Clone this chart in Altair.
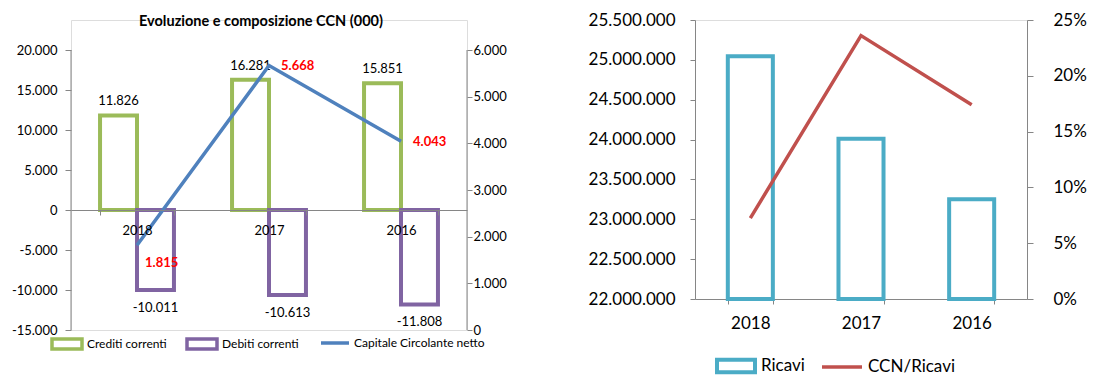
import altair as alt
import pandas as pd

years = ["2018", "2017", "2016"]
crediti = [11826, 16281, 15851]
debiti = [-10011, -10613, -11808]
ccn = [1815, 5668, 4043]
ricavi = [25045000, 24010000, 23250000]
ccn_ricavi = [0.0725, 0.236, 0.174]
left_ticks = [-15000, -10000, -5000, 0, 5000, 10000, 15000, 20000]
right_ticks = [0, 1000, 2000, 3000, 4000, 5000, 6000]

FONT = "Lato"
GRAY = "#868686"
GREEN = "#9BBB59"
PURPLE = "#8064A2"
BLUE = "#4F81BD"
CYAN = "#4BACC6"
RED = "#C0504D"

bars_df = pd.DataFrame({
    "year": years * 2,
    "serie": ["Crediti correnti"] * 3 + ["Debiti correnti"] * 3,
    "value": crediti + debiti,
})
line_df = pd.DataFrame({"year": years, "serie": ["Capitale Circolante netto"] * 3, "ccn": ccn})
r_df = pd.DataFrame({"year": years, "serie": ["Ricavi"] * 3, "ricavi": ricavi})
rl_df = pd.DataFrame({"year": years, "serie": ["CCN/Ricavi"] * 3, "ratio": ccn_ricavi})
laxis_df = pd.DataFrame({"lo": [min(left_ticks)], "hi": [max(left_ticks)]})
raxis_df = pd.DataFrame({"lo": [min(right_ticks)], "hi": [max(right_ticks)]})

# ---------------- left chart ----------------
LH = 310          # left view height (its axes use the lower 280 px)
LRANGE = [310, 30]
xscale_l = alt.Scale(domain=years, paddingInner=0.44, paddingOuter=0.22)
xaxis_l = alt.Axis(title=None, orient="bottom", offset=-120, domainColor=GRAY, tickColor=GRAY,
                   tickBand="extent", tickSize=5, labelPadding=9, labelAngle=0, labelFontSize=13,
                   labelFont=FONT, labelColor="black", zindex=1)
yscale_l = alt.Scale(domain=[-15000, 20000], range=LRANGE, nice=False, zero=False)
yaxis_l = alt.Axis(title=None, orient="left", values=left_ticks, format=",.0f",
                   grid=False, domain=False, tickColor=GRAY, tickSize=6, labelPadding=8,
                   labelFontSize=13, labelFont=FONT, labelColor="black")
y2scale_l = alt.Scale(domain=[0, 6000], range=LRANGE, nice=False, zero=False)
y2axis_l = alt.Axis(title=None, orient="right", values=right_ticks, format=",.0f",
                    grid=False, domain=False, tickColor=GRAY, tickSize=5, labelPadding=1,
                    labelFontSize=13, labelFont=FONT, labelColor="black")

X_l = alt.X("year:N", sort=years, scale=xscale_l, axis=xaxis_l)
XO = alt.XOffset("serie:N", scale=alt.Scale(paddingInner=0, paddingOuter=0))

# axis lines that span only the tick range
left_axis_line = alt.Chart(laxis_df).mark_rule(color=GRAY, strokeWidth=1).encode(
    x=alt.value(0),
    y=alt.Y("lo:Q", scale=yscale_l, axis=yaxis_l),
    y2=alt.Y2("hi:Q"))
right_axis_line = alt.Chart(raxis_df).mark_rule(color=GRAY, strokeWidth=1).encode(
    x=alt.value("width"),
    y=alt.Y("lo:Q", scale=y2scale_l, axis=y2axis_l),
    y2=alt.Y2("hi:Q"))

bars = alt.Chart(bars_df).mark_bar(fill="white", strokeWidth=4).encode(
    x=X_l,
    xOffset=XO,
    y=alt.Y("value:Q", scale=yscale_l, axis=yaxis_l),
    stroke=alt.Stroke("serie:N", scale=alt.Scale(domain=["Crediti correnti", "Debiti correnti"],
                                                 range=[GREEN, PURPLE]),
                      legend=alt.Legend(title=None, orient="none", direction="horizontal",
                                        legendX=-21, legendY=307, padding=0,
                                        symbolType="M-1,-0.33H1V0.33H-1Z", symbolSize=900,
                                        symbolStrokeWidth=3.5, symbolFillColor="white",
                                        labelFont=FONT, labelFontSize=12, labelColor="black",
                                        labelOffset=3, columnPadding=13)),
)
pos_text = alt.Chart(bars_df).transform_filter(alt.datum.value > 0).mark_text(
    font=FONT, fontSize=13, color="black", dy=-14, baseline="middle").encode(
    x=X_l, xOffset=XO, y=alt.Y("value:Q", scale=yscale_l, axis=yaxis_l),
    text=alt.Text("value:Q", format=",.0f"))
neg_text = alt.Chart(bars_df).transform_filter(alt.datum.value < 0).mark_text(
    font=FONT, fontSize=13, color="black", dy=18, baseline="middle").encode(
    x=X_l, xOffset=XO, y=alt.Y("value:Q", scale=yscale_l, axis=yaxis_l),
    text=alt.Text("value:Q", format=",.0f"))

line = alt.Chart(line_df).mark_line(strokeWidth=3.5).encode(
    x=X_l,
    y=alt.Y("ccn:Q", scale=y2scale_l, axis=y2axis_l),
    color=alt.Color("serie:N", scale=alt.Scale(domain=["Capitale Circolante netto"], range=[BLUE]),
                    legend=alt.Legend(title=None, orient="none", direction="horizontal",
                                      legendX=248, legendY=307, padding=0,
                                      symbolType="stroke", symbolSize=784, symbolStrokeWidth=3.5,
                                      labelFont=FONT, labelFontSize=12, labelColor="black",
                                      labelOffset=3)),
)
line_text_first = alt.Chart(line_df).transform_filter(alt.datum.year == "2018").mark_text(
    font=FONT, fontSize=13, fontWeight="bold", color="#FF0000", align="left", baseline="middle",
    dx=8, dy=18).encode(
    x=X_l, y=alt.Y("ccn:Q", scale=y2scale_l, axis=y2axis_l),
    text=alt.Text("ccn:Q", format=",.0f"))
line_text_rest = alt.Chart(line_df).transform_filter(alt.datum.year != "2018").mark_text(
    font=FONT, fontSize=13, fontWeight="bold", color="#FF0000", align="left", baseline="middle",
    dx=12, dy=1).encode(
    x=X_l, y=alt.Y("ccn:Q", scale=y2scale_l, axis=y2axis_l),
    text=alt.Text("ccn:Q", format=",.0f"))

left = alt.layer(
    alt.layer(left_axis_line, bars, pos_text, neg_text),
    alt.layer(right_axis_line, line, line_text_first, line_text_rest),
).resolve_scale(y="independent").properties(
    width=396, height=LH,
    title=alt.TitleParams("Evoluzione e composizione CCN (000)", font=FONT, fontSize=14.5,
                          fontWeight="bold", anchor="middle", color="black", offset=-9, dx=-8),
)

# ---------------- right chart ----------------
xscale_r = alt.Scale(domain=years, paddingInner=0.593, paddingOuter=0.2965)
xaxis_r = alt.Axis(title=None, orient="bottom", domainColor=GRAY, tickColor=GRAY, tickBand="extent",
                   tickSize=5, labelPadding=11, labelAngle=0, labelFontSize=17, labelFont=FONT,
                   labelColor="black")
X_r = alt.X("year:N", sort=years, scale=xscale_r, axis=xaxis_r)

rbars = alt.Chart(r_df).mark_bar(fill="white", strokeWidth=4).encode(
    x=X_r,
    y=alt.Y("ricavi:Q", scale=alt.Scale(domain=[22000000, 25500000], nice=False, zero=False),
            axis=alt.Axis(title=None, orient="left", values=list(range(22000000, 25500001, 500000)),
                          format=",.0f", grid=False, domain=True, domainColor=GRAY, tickColor=GRAY,
                          tickSize=5, labelPadding=15, labelFontSize=17, labelFont=FONT,
                          labelColor="black")),
    y2=alt.datum(22000000),
    stroke=alt.Stroke("serie:N", scale=alt.Scale(domain=["Ricavi"], range=[CYAN]),
                      legend=alt.Legend(title=None, orient="none", direction="horizontal",
                                        legendX=20, legendY=325, padding=0,
                                        symbolType="M-1,-0.33H1V0.33H-1Z", symbolSize=1444,
                                        symbolStrokeWidth=4, symbolFillColor="white",
                                        labelFont=FONT, labelFontSize=17, labelColor="black",
                                        labelOffset=4)),
)
rline = alt.Chart(rl_df).mark_line(strokeWidth=3.5).encode(
    x=X_r,
    y=alt.Y("ratio:Q", scale=alt.Scale(domain=[0, 0.25], nice=False),
            axis=alt.Axis(title=None, orient="right", values=[0, 0.05, 0.10, 0.15, 0.20, 0.25],
                          format=".0%", grid=False, domain=True, domainColor=GRAY, tickColor=GRAY,
                          tickSize=6, labelPadding=20, labelFontSize=17, labelFont=FONT,
                          labelColor="black")),
    color=alt.Color("serie:N", scale=alt.Scale(domain=["CCN/Ricavi"], range=[RED]),
                    legend=alt.Legend(title=None, orient="none", direction="horizontal",
                                      legendX=125, legendY=325, padding=0,
                                      symbolType="stroke", symbolSize=1600, symbolStrokeWidth=3.5,
                                      labelFont=FONT, labelFontSize=17, labelColor="black",
                                      labelOffset=4)),
)
right = alt.layer(rbars, rline).resolve_scale(y="independent").properties(width=332, height=279)

chart = alt.hconcat(left, right, spacing=80).resolve_scale(
    color="independent", stroke="independent"
).resolve_legend(color="independent", stroke="independent").properties(
    padding={"left": 10, "top": 10, "right": 0, "bottom": 0}
).configure_view(stroke=None, strokeWidth=0).configure_axisY(domain=False).configure(
    background="white")

chart.save("out.html", embed_options={
    "renderer": "svg", "actions": False,
    "formatLocale": {"decimal": ",", "thousands": ".", "grouping": [3],
                     "currency": ["", " €"], "minus": "-", "percent": "%"},
})
